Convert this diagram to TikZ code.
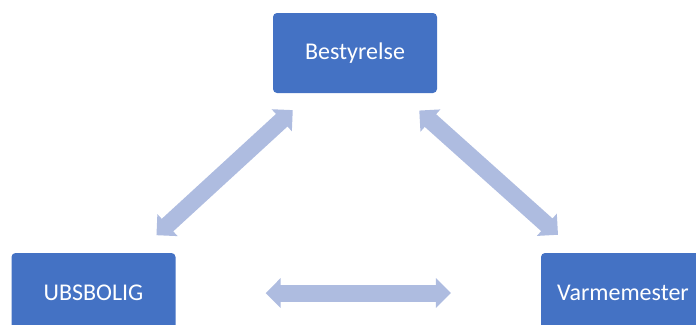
\documentclass[tikz,border=0pt]{standalone}
\usepackage{fontspec}
\setmainfont{Carlito}
\usepackage{tikz}
\usetikzlibrary{arrows.meta, positioning, calc}
\definecolor{BoxBlue}{RGB}{68,114,196}
\definecolor{ArrowBlue}{RGB}{174,188,224}

\begin{document}
\begin{tikzpicture}[x=1pt, y=-1pt,
    box/.style={fill=BoxBlue, text=white, rounded corners=4pt,
        minimum width=164pt, minimum height=80pt, inner sep=0pt,
        font=\fontsize{24}{28}\selectfont},
    link/.style={ArrowBlue, line width=17pt,
        {Triangle[width=29pt, length=15pt]}-{Triangle[width=29pt, length=15pt]}}]

\useasboundingbox (0,0) rectangle (696,324);
\clip (0,0) rectangle (696,324);

% bokse
\node[box] (best) at (355,53)  {Bestyrelse};
\node[box] (ubs)  at (93.5,293) {UBSBOLIG};
\node[box] (varm) at (623,293) {Varmemester};

% pile
\draw[link, shorten <=25pt, shorten >=26pt] (best) -- (ubs);
\draw[link, shorten <=26pt, shorten >=27pt] (best) -- (varm);
\draw[link, shorten <=90pt, shorten >=90pt] (ubs) -- (varm);

\end{tikzpicture}
\end{document}
